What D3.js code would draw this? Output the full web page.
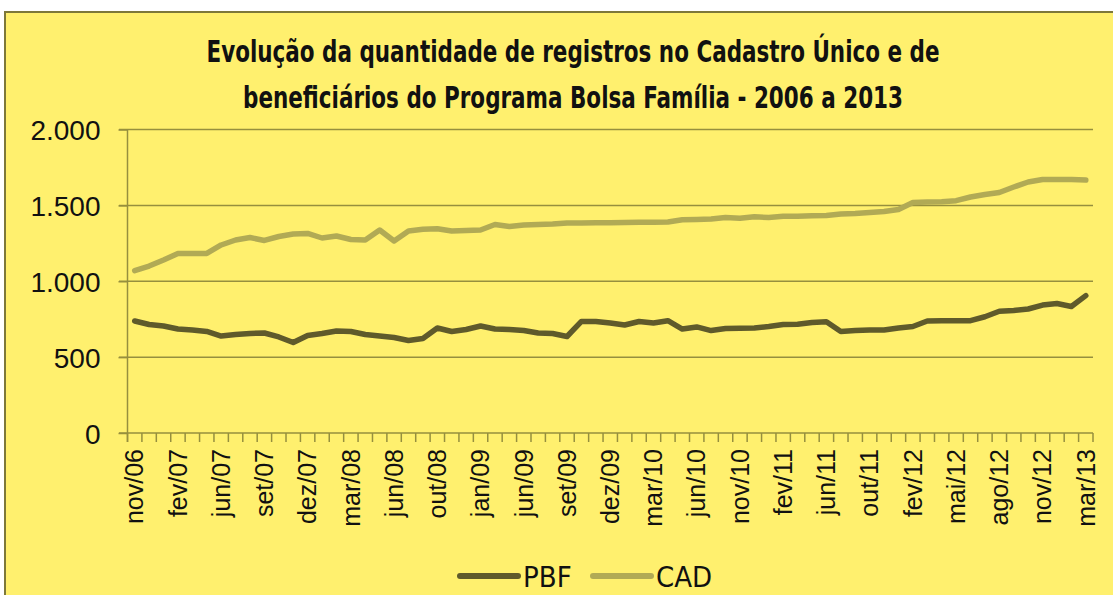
<!DOCTYPE html>
<html>
<head>
<meta charset="utf-8"/>
<title>Bolsa Familia</title>
<script src="https://cdnjs.cloudflare.com/ajax/libs/d3/7.8.5/d3.min.js"></script>
<style>
  body { margin: 0; background: #fff; }
  text { font-family: "Liberation Sans Narrow", "DejaVu Sans Condensed", "Liberation Sans", sans-serif; fill: #111; }
</style>
</head>
<body>
<script>

var months = ["nov/06","dez/06","jan/07","fev/07","mar/07","abr/07","jun/07","jul/07","ago/07","set/07",
  "out/07","nov/07","dez/07","jan/08","fev/08","mar/08","abr/08","mai/08","jun/08","jul/08",
  "ago/08","out/08","nov/08","dez/08","jan/09","mar/09","abr/09","jun/09","jul/09","ago/09",
  "set/09","out/09","nov/09","dez/09","jan/10","fev/10","mar/10","abr/10","mai/10","jun/10",
  "ago/10","set/10","nov/10","dez/10","jan/11","fev/11","mar/11","abr/11","jun/11","jul/11",
  "ago/11","out/11","nov/11","dez/11","fev/12","mar/12","abr/12","mai/12","jun/12","jul/12",
  "ago/12","set/12","out/12","nov/12","dez/12","fev/13","mar/13"];

var pbf = [738,715,705,685,679,669,639,649,656,659,
  633,596,643,656,672,669,649,639,629,610,
  623,692,669,682,705,685,682,675,659,656,
  636,735,735,725,712,735,725,740,685,699,
  675,689,691,692,702,715,716,728,733,669,
  675,679,679,692,702,738,740,740,740,766,
  802,807,817,843,853,834,905];

var cad = [1070,1100,1140,1183,1183,1183,1239,1272,1288,1269,
  1295,1311,1315,1285,1298,1275,1272,1338,1265,1331,
  1342,1346,1331,1334,1338,1374,1361,1371,1374,1377,
  1384,1384,1386,1386,1387,1388,1388,1390,1405,1407,
  1410,1420,1415,1425,1420,1428,1428,1431,1434,1443,
  1446,1453,1460,1473,1519,1522,1524,1531,1555,1572,
  1585,1621,1654,1671,1671,1671,1667];

var yTicks = [0, 500, 1000, 1500, 2000];
var titleLines = ["Evolução da quantidade de registros no Cadastro  Único e de",
  "beneficiários do Programa Bolsa Família - 2006 a 2013"];
var seriesNames = ["PBF", "CAD"];

var width = 1113, height = 595;
var colors = { PBF: "#5f5a2b", CAD: "#b1aa55" };

var svg = d3.select("body").append("svg")
  .attr("width", width)
  .attr("height", height);

// panel
svg.append("rect")
  .attr("x", 5).attr("y", 12)
  .attr("width", width).attr("height", height)
  .attr("fill", "#fff06e")
  .attr("stroke", "#7d783a")
  .attr("stroke-width", 2);

var x = d3.scaleBand().domain(months).range([127.5, 1093]);
var y = d3.scaleLinear().domain([0, 2000]).range([433, 129.5]);

var ptBR = d3.formatLocale({ decimal: ",", thousands: ".", grouping: [3], currency: ["R$", ""] });
var fmt = ptBR.format(",d");

// gridlines
svg.append("g").selectAll("line").data(yTicks.slice(1)).enter().append("line")
  .attr("x1", 119).attr("x2", 1093)
  .attr("y1", function (d){ return y(d); })
  .attr("y2", function (d){ return y(d); })
  .attr("stroke", "#968f3e").attr("stroke-width", 1.5);

// y axis
var yAxis = svg.append("g")
  .attr("transform", "translate(127.5,0)")
  .call(d3.axisLeft(y).tickValues(yTicks).tickSize(9).tickPadding(18).tickFormat(fmt));
yAxis.select(".domain").remove();
yAxis.selectAll("line").attr("stroke", "#968f3e").attr("stroke-width", 1.5);
yAxis.selectAll("text").attr("font-size", 28).attr("dy", "0.36em")
  .style("font-family", "'Liberation Sans', sans-serif").attr("fill", "#111");

svg.append("line")
  .attr("x1", 127.5).attr("x2", 127.5).attr("y1", 129.5).attr("y2", 442)
  .attr("stroke", "#968f3e").attr("stroke-width", 1.5);

// x axis line + ticks between categories
svg.append("line")
  .attr("x1", 119).attr("x2", 1093).attr("y1", 433).attr("y2", 433)
  .attr("stroke", "#968f3e").attr("stroke-width", 1.5);

var bounds = months.map(function (m){ return x(m); }).concat([x.range()[1]]);
svg.append("g").selectAll("line").data(bounds).enter().append("line")
  .attr("x1", function (d){ return d; }).attr("x2", function (d){ return d; })
  .attr("y1", 433).attr("y2", 442)
  .attr("stroke", "#968f3e").attr("stroke-width", 1.5);

var xAxis = svg.append("g")
  .attr("transform", "translate(" + (x.bandwidth() / 2) + ",433)")
  .call(d3.axisBottom(x).tickValues(months.filter(function (d, i){ return i % 3 === 0; })).tickSize(0).tickPadding(0));
xAxis.select(".domain").remove();
xAxis.selectAll(".tick").attr("transform", function (d){ return "translate(" + (x(d)) + ",0)"; });
xAxis.selectAll("text")
  .attr("transform", "rotate(-90)")
  .attr("x", -16).attr("y", 0).attr("dy", "0.35em")
  .attr("text-anchor", "end")
  .attr("font-size", 25)
  .style("font-family", "'Liberation Sans', sans-serif")
  .attr("fill", "#111");

// lines
var line = d3.line()
  .x(function (d, i){ return x(months[i]) + x.bandwidth() / 2; })
  .y(function (d){ return y(d); });

[["CAD", cad], ["PBF", pbf]].forEach(function (s){
  svg.append("path")
    .datum(s[1])
    .attr("fill", "none")
    .attr("stroke", colors[s[0]])
    .attr("stroke-width", 5.5)
    .attr("stroke-linejoin", "round")
    .attr("stroke-linecap", "round")
    .attr("d", line);
});

// title (slightly tall, condensed look)
var titleW = [733, 660];
svg.append("g").selectAll("g").data(titleLines).enter().append("g")
  .attr("transform", function (d, i){ return "translate(573," + (62 + i * 46) + ") scale(1,1.22)"; })
  .append("text")
  .attr("text-anchor", "middle")
  .attr("font-size", 24)
  .attr("font-weight", "bold")
  .attr("textLength", function (d, i){ return titleW[i]; })
  .attr("lengthAdjust", "spacingAndGlyphs")
  .text(function (d){ return d; });

// legend
var legX = [460, 593];
var leg = svg.append("g").selectAll("g").data(seriesNames).enter().append("g")
  .attr("transform", function (d, i){ return "translate(" + legX[i] + ",576)"; });
leg.append("line")
  .attr("x1", 0).attr("x2", 58)
  .attr("stroke", function (d){ return colors[d]; })
  .attr("stroke-width", 6)
  .attr("stroke-linecap", "round");
leg.append("text")
  .attr("x", 63).attr("y", 11)
  .attr("font-size", 29)
  .text(function (d){ return d; });

</script>
</body>
</html>
